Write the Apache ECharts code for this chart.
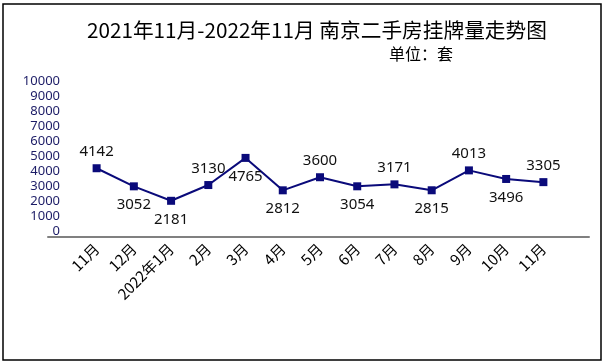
<!DOCTYPE html>
<html>
<head>
<meta charset="utf-8">
<script src="https://cdn.jsdelivr.net/npm/echarts@6/dist/echarts.min.js"></script>
<style>
html,body{margin:0;padding:0;background:#fff;}
#c{width:607px;height:364px;}
</style>
</head>
<body>
<div id="c"></div>
<script>
var categories = ['11月','12月','2022年1月','2月','3月','4月','5月','6月','7月','8月','9月','10月','11月'];
var listings = [4142,3052,2181,3130,4765,2812,3600,3054,3171,2815,4013,3496,3305];
var yTicks = [0,1000,2000,3000,4000,5000,6000,7000,8000,9000,10000];
var titleText = '2021年11月-2022年11月 南京二手房挂牌量走势图';
var unitText = '单位：套';

var belowIdx = [1,2,4,5,7,9,11];
var seriesData = listings.map(function(v,i){
  var below = belowIdx.indexOf(i) >= 0;
  return {value: v, label: {position: below ? 'bottom' : 'top', distance: below ? 7 : 5}};
});

var chart = echarts.init(document.getElementById('c'), null, {renderer:'canvas'});
chart.setOption({
  backgroundColor:'#fff',
  animation:false,
  title:[
    {text: titleText, left: 87, top: 20, padding:0,
     textStyle:{fontFamily:'"Noto Sans CJK SC"', fontSize:20.7, fontWeight:'normal', color:'#000'}},
    {text: unitText, left: 389, top: 46, padding:0,
     textStyle:{fontFamily:'"Noto Sans CJK SC"', fontSize:16, fontWeight:'normal', color:'#000'}}
  ],
  graphic:[
    {type:'rect', shape:{x:3,y:4,width:598,height:356}, style:{fill:'none', stroke:'#000', lineWidth:1.5}, silent:true}
  ],
  grid:[
    {left:78, right:45, top:71, bottom:127},
    {left:62, right:45, top:81, bottom:133},
    {left:48, right:18, top:71, bottom:127}
  ],
  xAxis:[
    {type:'category', gridIndex:0, data:categories, boundaryGap:true,
     axisLine:{show:false}, axisTick:{show:false},
     axisLabel:{rotate:45, margin:9, interval:0, fontSize:15, color:'#000', fontFamily:'"Noto Sans CJK SC"'}},
    {type:'category', gridIndex:1, data:categories, show:false},
    {type:'category', gridIndex:2, data:categories,
     axisLine:{show:true, lineStyle:{color:'#808080', width:2}},
     axisTick:{show:false}, axisLabel:{show:false}}
  ],
  yAxis:[
    {type:'value', gridIndex:0, min:0, max:10000, interval:1000, show:false},
    {type:'value', gridIndex:1, min:yTicks[0], max:yTicks[yTicks.length-1], interval:yTicks[1]-yTicks[0],
     axisLine:{show:false}, axisTick:{show:false}, splitLine:{show:false},
     axisLabel:{margin:2, fontSize:13, color:'#1c1c66', fontFamily:'"Noto Sans"',
       formatter:function(v){return String(v);}}},
    {type:'value', gridIndex:2, min:0, max:10000, show:false}
  ],
  series:[{
    type:'line', xAxisIndex:0, yAxisIndex:0,
    data: seriesData,
    symbol:'rect', symbolSize:8,
    lineStyle:{color:'#0a0a7a', width:2},
    itemStyle:{color:'#0a0a7a'},
    label:{show:true, fontSize:15, color:'#111', fontFamily:'"Noto Sans"'}
  }]
});
</script>
</body>
</html>
